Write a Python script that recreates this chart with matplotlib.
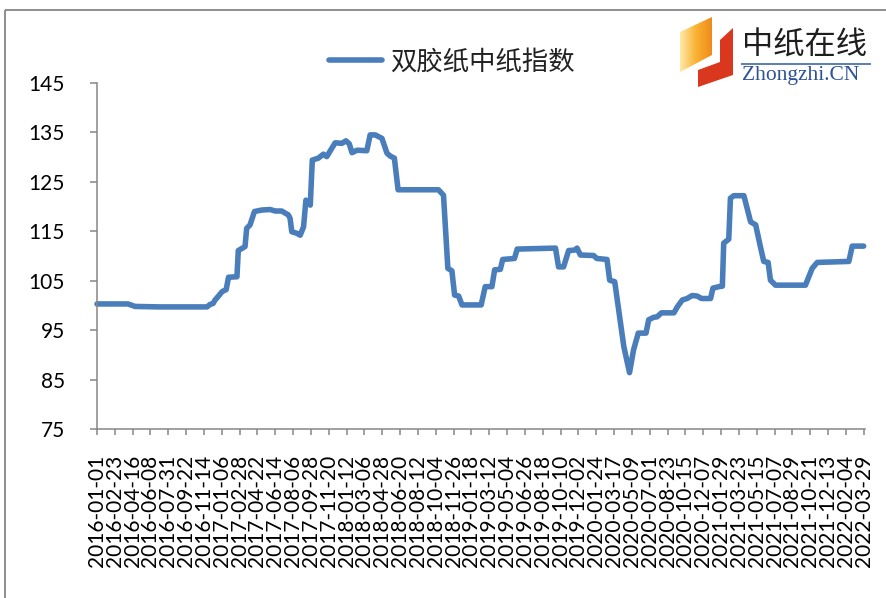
import matplotlib
matplotlib.use("Agg")
import matplotlib.pyplot as plt
import matplotlib.dates as mdates
import numpy as np
import pandas as pd
from matplotlib.patches import Polygon, Rectangle
from matplotlib.font_manager import FontProperties

# ── data ────────────────────────────────────────────────────────────────────
SERIES_NAME = "双胶纸中纸指数"

DATES = [
    "2016-01-01", "2016-04-02", "2016-04-23", "2016-07-06", "2016-11-23",
    "2016-12-02", "2016-12-11", "2016-12-17", "2016-12-26", "2017-01-07",
    "2017-01-19", "2017-01-26", "2017-02-20", "2017-02-24", "2017-03-16",
    "2017-03-21", "2017-03-31", "2017-04-13", "2017-05-05", "2017-05-30",
    "2017-06-14", "2017-07-03", "2017-07-23", "2017-07-28", "2017-08-02",
    "2017-08-17", "2017-08-27", "2017-09-06", "2017-09-13", "2017-09-26",
    "2017-10-02", "2017-10-20", "2017-11-04", "2017-11-14", "2017-11-29",
    "2017-12-09", "2017-12-29", "2018-01-10", "2018-01-20", "2018-01-28",
    "2018-02-12", "2018-03-13", "2018-03-23", "2018-04-07", "2018-04-27",
    "2018-05-12", "2018-05-22", "2018-06-03", "2018-06-14", "2018-10-12",
    "2018-10-27", "2018-11-09", "2018-11-21", "2018-11-29", "2018-12-11",
    "2018-12-21", "2019-02-16", "2019-02-28", "2019-03-20", "2019-03-28",
    "2019-04-14", "2019-04-21", "2019-05-26", "2019-06-03", "2019-09-25",
    "2019-10-04", "2019-10-19", "2019-11-03", "2019-11-21", "2019-11-28",
    "2019-12-08", "2020-01-16", "2020-01-26", "2020-02-25", "2020-03-04",
    "2020-03-19", "2020-04-15", "2020-05-02", "2020-05-14", "2020-05-28",
    "2020-06-20", "2020-06-28", "2020-07-13", "2020-07-23", "2020-08-05",
    "2020-09-11", "2020-09-21", "2020-10-06", "2020-10-20", "2020-11-04",
    "2020-11-19", "2020-12-02", "2020-12-29", "2021-01-05", "2021-01-23",
    "2021-02-02", "2021-02-06", "2021-02-21", "2021-02-26", "2021-03-08",
    "2021-04-07", "2021-04-27", "2021-05-12", "2021-05-26", "2021-06-05",
    "2021-06-18", "2021-06-25", "2021-07-10", "2021-10-07", "2021-10-27",
    "2021-11-11", "2022-02-13", "2022-02-23", "2022-03-29",
]
VALUES = [
    100.3, 100.3, 99.8, 99.7, 99.7,
    100.2, 100.4, 101.1, 101.8, 102.8,
    103.2, 105.7, 105.8, 111.1, 111.9,
    115.6, 116.3, 119.0, 119.3, 119.4,
    119.1, 119.1, 118.3, 117.6, 114.9,
    114.6, 114.2, 115.9, 121.3, 120.3,
    129.4, 129.8, 130.6, 130.1, 131.8,
    132.9, 132.8, 133.3, 132.7, 130.9,
    131.4, 131.3, 134.5, 134.5, 133.8,
    130.8, 130.2, 129.8, 123.4, 123.4,
    122.3, 107.5, 107.0, 102.1, 101.9,
    100.1, 100.1, 103.8, 103.8, 107.2,
    107.3, 109.3, 109.5, 111.4, 111.6,
    107.8, 107.8, 111.1, 111.2, 111.6,
    110.2, 110.1, 109.5, 109.3, 105.1,
    104.8, 91.7, 86.4, 91.0, 94.4,
    94.4, 97.1, 97.6, 97.7, 98.5,
    98.5, 99.7, 101.1, 101.4, 102.0,
    101.9, 101.4, 101.4, 103.5, 103.8,
    103.9, 112.6, 113.4, 121.7, 122.2,
    122.2, 116.9, 116.3, 111.9, 108.9,
    108.7, 105.1, 104.1, 104.1, 107.5,
    108.7, 108.9, 112.0, 112.0,
]

X_START, X_END = "2016-01-01", "2022-03-29"
TICK_STEP = "53D"          # category labels every 53 days
Y_TICKS = [75, 85, 95, 105, 115, 125, 135, 145]

LINE_COLOR = "#4A7EBB"
AXIS_GREY = "#868686"

W, H = 886, 598
plt.rcParams["font.family"] = ["Lato", "Noto Sans CJK SC", "DejaVu Sans"]

fig = plt.figure(figsize=(W / 100, H / 100), dpi=100)
ax = fig.add_axes([97 / W, 1 - 429 / H, (865 - 97) / W, (429 - 83) / H])

x = pd.to_datetime(DATES)
ax.plot(x, VALUES, color=LINE_COLOR, lw=4, solid_joinstyle="round",
        solid_capstyle="round", label=SERIES_NAME, clip_on=False)

ticks = pd.date_range(X_START, X_END, freq=TICK_STEP)
ax.set_xlim(pd.Timestamp(X_START), pd.Timestamp(X_END) + pd.Timedelta(days=4))
ax.set_xticks(ticks)
ax.set_xticklabels([t.strftime("%Y-%m-%d") for t in ticks], rotation=90, fontsize=15)
ax.set_ylim(75, 145)
ax.set_yticks(Y_TICKS)
ax.tick_params(axis="y", labelsize=15, length=5, width=1.1, color=AXIS_GREY, pad=18)
ax.tick_params(axis="x", length=4.5, width=1.1, color=AXIS_GREY, pad=14)
for s in ("top", "right"):
    ax.spines[s].set_visible(False)
for s in ("left", "bottom"):
    ax.spines[s].set_color(AXIS_GREY)
    ax.spines[s].set_linewidth(1.1)

leg = ax.legend(loc="center", bbox_to_anchor=(452 / W, 1 - 62 / H),
                bbox_transform=fig.transFigure, frameon=False,
                prop=FontProperties(family=["Noto Sans CJK SC"], size=19),
                handlelength=2.0, handletextpad=0.3)
for t in leg.get_texts():
    t.set_color("#222222")

# ── overlay in pixel coordinates: chart border + logo ───────────────────────
ov = fig.add_axes([0, 0, 1, 1], zorder=-1)
ov.set_xlim(0, W)
ov.set_ylim(H, 0)
ov.axis("off")
ov.add_patch(Rectangle((5, 10), W + 20, H + 20, fill=False, ec=AXIS_GREY, lw=1.3))

lg = fig.add_axes([0, 0, 1, 1], zorder=3)
lg.set_xlim(0, W)
lg.set_ylim(H, 0)
lg.axis("off")
orange = Polygon([(680, 32), (712, 17), (712, 55), (680, 72)], closed=True,
                 fc="none", ec="none")
lg.add_patch(orange)
grad = np.linspace(0, 1, 64).reshape(1, -1)
im = lg.imshow(grad, extent=(680, 712, 72, 17), cmap=matplotlib.colors.LinearSegmentedColormap.from_list(
    "og", ["#FFE9A8", "#F9B233", "#F08A1C"]), aspect="auto")
im.set_clip_path(orange)
lg.add_patch(Polygon([(720, 40), (733, 28), (733, 75), (698, 87), (698, 70), (720, 62)],
                     closed=True, fc="#D9381E", ec="none"))
lg.text(742, 46, "中纸在线", fontsize=22.5, family=["Noto Sans CJK SC"],
        color="#1E1E1E", va="center", ha="left")
lg.plot([742, 870], [63.5, 63.5], color="#5B7DB1", lw=1.4)
lg.text(742, 75.5, "Zhongzhi.CN", fontsize=15.5, family=["Liberation Serif"],
        color="#2F5496", va="center", ha="left")
lg.set_xlim(0, W)
lg.set_ylim(H, 0)

fig.savefig("out.png", dpi=100)
